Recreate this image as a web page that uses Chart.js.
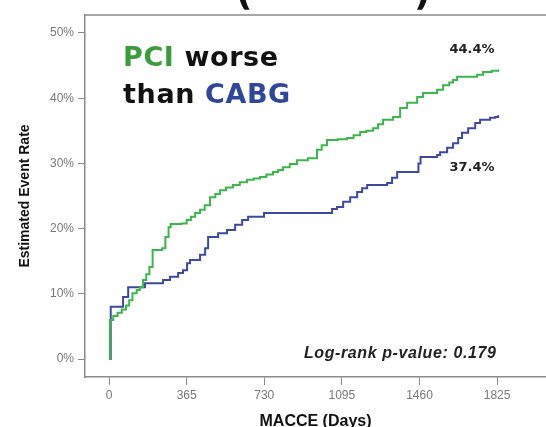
<!DOCTYPE html>
<html>
<head>
<meta charset="utf-8">
<script src="https://cdn.jsdelivr.net/npm/chart.js@4.4.1/dist/chart.umd.min.js"></script>
<style>
  html, body { margin: 0; padding: 0; background: #fff; overflow: hidden; }
  #wrap { width: 546px; height: 440px; }
</style>
</head>
<body>
<div id="wrap"><canvas id="canvasChart" width="546" height="440"></canvas></div>
<script>
// tick labels
var xTicks = [0, 365, 730, 1095, 1460, 1825];
var yTicks = [0, 10, 20, 30, 40, 50];

// PCI (green) - days and estimated event rate (%)
var pciDays = [0, 4, 20, 40, 60, 80, 95, 110, 130, 145, 160, 175, 190, 205, 250, 265, 280, 290, 340, 365, 385, 405,
  428, 450, 475, 500, 522, 550, 583, 615, 649, 680, 710, 740, 771, 795, 818, 850, 884, 935, 978, 1000, 1025, 1075,
  1120, 1150, 1181, 1210, 1242, 1265, 1289, 1336, 1369, 1402, 1449, 1477, 1543, 1571, 1600, 1618, 1637, 1731, 1759,
  1800, 1830];
var pciRate = [0, 6.0, 6.6, 7.1, 7.6, 8.2, 9.0, 10.1, 10.6, 11.0, 12.1, 13.0, 14.1, 16.7, 17.0, 18.7, 20.2, 20.7, 20.8,
  21.3, 21.8, 22.4, 22.9, 23.6, 24.8, 25.3, 25.9, 26.3, 26.7, 27.1, 27.5, 27.7, 27.9, 28.3, 28.7, 29.0, 29.4, 29.9,
  30.5, 30.8, 32.1, 32.8, 33.6, 33.7, 33.9, 34.3, 34.8, 35.0, 35.4, 36.0, 36.7, 37.1, 38.5, 39.3, 40.2, 40.8, 41.3,
  42.0, 42.4, 42.8, 43.3, 43.6, 44.0, 44.2, 44.4];

// CABG (blue)
var cabgDays = [0, 8, 66, 90, 169, 254, 287, 325, 348, 367, 381, 428, 452, 466, 513, 555, 593, 626, 654, 729, 1049,
  1072, 1101, 1134, 1167, 1190, 1214, 1308, 1331, 1355, 1455, 1465, 1543, 1557, 1590, 1618, 1642, 1660, 1689, 1722,
  1745, 1792, 1816, 1830];
var cabgRate = [0, 8.0, 9.5, 11.0, 11.6, 12.1, 12.6, 13.2, 13.6, 14.7, 15.2, 16.0, 17.0, 18.7, 19.3, 19.8, 20.6, 21.3,
  21.8, 22.4, 23.0, 23.3, 24.1, 24.8, 25.6, 26.2, 26.7, 27.0, 27.8, 28.7, 30.0, 31.0, 31.3, 31.7, 32.4, 33.1, 33.9,
  34.7, 35.4, 36.2, 36.7, 37.0, 37.1, 37.4];

function toPoints(days, rate) {
  var pts = [];
  for (var i = 0; i < days.length; i++) {
    pts.push({ x: days[i], y: rate[i] });
  }
  return pts;
}

var axisColor = '#8a8a8a';
var tickFont = { family: 'Liberation Sans, Arial, sans-serif', size: 12 };

const notesPlugin = {
  id: 'notes',
  afterDraw(chart) {
    var ctx = chart.ctx;
    var sx = chart.scales.x;
    var sy = chart.scales.y;
    var area = chart.chartArea;
    ctx.save();

    // top of the frame
    ctx.strokeStyle = axisColor;
    ctx.lineWidth = 1.5;
    ctx.beginPath();
    ctx.moveTo(area.left, area.top);
    ctx.lineTo(area.right, area.top);
    ctx.stroke();

    // cut-off title above the plot
    ctx.fillStyle = '#111';
    ctx.font = 'bold 36px "DejaVu Sans"';
    ctx.textBaseline = 'alphabetic';
    ctx.textAlign = 'left';
    ctx.fillText('(', 236, 5);
    ctx.fillText(')', 414, 5);

    // big label
    ctx.font = 'bold 27px "DejaVu Sans"';
    ctx.letterSpacing = '0.6px';
    var lx = sx.getPixelForValue(66);
    var l1 = sy.getPixelForValue(44.9);
    var l2 = sy.getPixelForValue(39.2);
    ctx.fillStyle = '#3b9c3b';
    ctx.fillText('PCI', lx, l1);
    var w = ctx.measureText('PCI ').width;
    ctx.fillStyle = '#111';
    ctx.fillText('worse', lx + w, l1);
    ctx.fillText('than', lx, l2);
    w = ctx.measureText('than ').width;
    ctx.fillStyle = '#2f4699';
    ctx.fillText('CABG', lx + w, l2);
    ctx.letterSpacing = '0px';

    // end values
    ctx.fillStyle = '#222';
    ctx.font = 'bold 13px "DejaVu Sans"';
    ctx.textAlign = 'center';
    ctx.textBaseline = 'middle';
    ctx.fillText('44.4%', sx.getPixelForValue(1707), sy.getPixelForValue(47.4));
    ctx.fillText('37.4%', sx.getPixelForValue(1707), sy.getPixelForValue(29.4));

    // log-rank
    ctx.font = 'italic bold 16px "Liberation Sans", Arial';
    ctx.letterSpacing = '0.6px';
    ctx.textAlign = 'right';
    ctx.fillText('Log-rank p-value: 0.179', sx.getPixelForValue(1822), sy.getPixelForValue(0.9));

    ctx.restore();
  }
};

function renderChart() {
  var canvas = document.getElementById('canvasChart');
  new Chart(canvas, {
    type: 'line',
    data: {
      datasets: [{
        label: 'PCI',
        data: toPoints(pciDays, pciRate),
        borderColor: '#3cb54a',
        borderWidth: 2,
        stepped: true,
        pointRadius: 0,
        fill: false
      }, {
        label: 'CABG',
        data: toPoints(cabgDays, cabgRate),
        borderColor: '#3c4a9e',
        borderWidth: 2,
        stepped: true,
        pointRadius: 0,
        fill: false
      }]
    },
    options: {
      responsive: false,
      animation: false,
      layout: { padding: { top: 15, left: 0, right: 0, bottom: 0 } },
      plugins: {
        legend: { display: false },
        tooltip: { enabled: false }
      },
      scales: {
        x: {
          type: 'linear',
          min: -113,
          max: 2055,
          afterBuildTicks: function (s) { s.ticks = xTicks.map(function (v) { return { value: v }; }); },
          afterFit: function (s) { s.height = 63; },
          ticks: {
            color: '#777', font: tickFont, padding: 3, maxRotation: 0, autoSkip: false,
            callback: function (v) { return String(v); }
          },
          grid: { drawOnChartArea: false, drawTicks: true, tickLength: 8, color: axisColor, lineWidth: 1 },
          border: { color: axisColor, width: 1.5 },
          title: {
            display: true,
            text: 'MACCE (Days)',
            color: '#111',
            font: { family: 'Liberation Sans, Arial', size: 16, weight: 'bold' },
            padding: { top: 0, bottom: 9 }
          }
        },
        y: {
          min: -2.76,
          max: 52.76,
          afterBuildTicks: function (s) { s.ticks = yTicks.map(function (v) { return { value: v }; }); },
          afterFit: function (s) { s.width = 85; },
          ticks: {
            color: '#777', font: tickFont, padding: 4,
            callback: function (v) { return v + '%'; }
          },
          grid: { drawOnChartArea: false, drawTicks: true, tickLength: 7, color: axisColor, lineWidth: 1 },
          border: { color: axisColor, width: 1.5 },
          title: {
            display: true,
            text: 'Estimated Event Rate',
            color: '#111',
            font: { family: 'Liberation Sans, Arial', size: 14, weight: 'bold' },
            padding: { top: 17, bottom: 0 }
          }
        }
      }
    },
    plugins: [notesPlugin]
  });
}

renderChart();
</script>
</body>
</html>
